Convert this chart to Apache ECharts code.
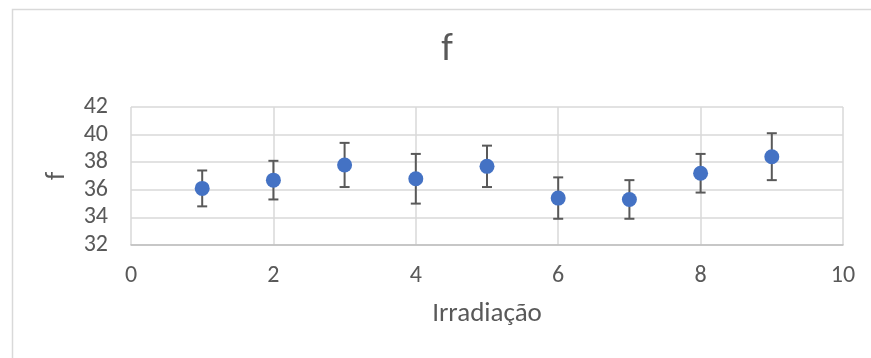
<!DOCTYPE html>
<html>
<head>
<meta charset="utf-8">
<script src="https://cdn.jsdelivr.net/npm/echarts@6/dist/echarts.min.js"></script>
<style>
  html, body { margin: 0; padding: 0; background: #ffffff; }
  #chart { width: 871px; height: 358px; }
</style>
</head>
<body>
<div id="chart"></div>
<script>
// Measurements: irradiation step and mean f with its error
const irradiacao = [1, 2, 3, 4, 5, 6, 7, 8, 9];
const fValues    = [36.1, 36.7, 37.8, 36.8, 37.7, 35.4, 35.3, 37.2, 38.4];
const fErrors    = [1.3, 1.4, 1.6, 1.8, 1.5, 1.5, 1.4, 1.4, 1.7];
const yTicks     = [32, 34, 36, 38, 40, 42];
const xTicks     = [0, 2, 4, 6, 8, 10];

const FONT = 'Carlito, Lato, sans-serif';
const TEXT = '#595959';

const points = irradiacao.map((x, i) => [x, fValues[i]]);
const bars = irradiacao.map((x, i) => [x, fValues[i] - fErrors[i], fValues[i] + fErrors[i]]);

const chart = echarts.init(document.getElementById('chart'), null, { renderer: 'canvas' });

chart.setOption({
  animation: false,
  backgroundColor: '#ffffff',
  graphic: [
    {
      type: 'rect',
      left: 10, top: 7,
      shape: { width: 900, height: 400 },
      style: { fill: 'none', stroke: '#d9d9d9', lineWidth: 1.5 },
      silent: true
    },
    {
      type: 'text',
      x: 447, y: 50,
      style: {
        text: 'f',
        align: 'center', verticalAlign: 'middle',
        font: 'normal 38px ' + FONT,
        fill: TEXT
      },
      silent: true
    }
  ],
  grid: { left: 131, right: 28, top: 107, bottom: 113 },
  xAxis: {
    type: 'value',
    min: xTicks[0],
    max: xTicks[xTicks.length - 1],
    interval: 2,
    name: 'Irradiação',
    nameLocation: 'middle',
    nameGap: 56,
    nameTextStyle: { fontFamily: FONT, fontSize: 27, color: TEXT },
    axisLine: { show: true, lineStyle: { color: '#bfbfbf', width: 1.5 } },
    axisTick: { show: false },
    axisLabel: { margin: 19, fontFamily: FONT, fontSize: 24, color: TEXT },
    splitLine: { show: true, lineStyle: { color: '#d9d9d9', width: 1.5 } }
  },
  yAxis: {
    type: 'value',
    min: yTicks[0],
    max: yTicks[yTicks.length - 1],
    interval: 2,
    name: 'f',
    nameLocation: 'middle',
    nameRotate: 90,
    nameGap: 60,
    nameTextStyle: { fontFamily: FONT, fontSize: 27, color: TEXT },
    axisLine: { show: false },
    axisTick: { show: false },
    axisLabel: { margin: 23, fontFamily: FONT, fontSize: 24, color: TEXT },
    splitLine: { show: true, lineStyle: { color: '#d9d9d9', width: 1.5 } }
  },
  series: [
    {
      // error bars with caps
      type: 'custom',
      z: 2,
      data: bars,
      renderItem: function (params, api) {
        const x = api.value(0);
        const lo = api.coord([x, api.value(1)]);
        const hi = api.coord([x, api.value(2)]);
        const half = 5;
        const style = { stroke: '#595959', lineWidth: 2 };
        return {
          type: 'group',
          children: [
            { type: 'line', shape: { x1: lo[0], y1: lo[1], x2: hi[0], y2: hi[1] }, style: style },
            { type: 'line', shape: { x1: lo[0] - half, y1: lo[1], x2: lo[0] + half, y2: lo[1] }, style: style },
            { type: 'line', shape: { x1: hi[0] - half, y1: hi[1], x2: hi[0] + half, y2: hi[1] }, style: style }
          ]
        };
      }
    },
    {
      type: 'scatter',
      z: 3,
      data: points,
      symbol: 'circle',
      symbolSize: 15,
      itemStyle: { color: '#4472c4', opacity: 1 }
    }
  ]
});
</script>
</body>
</html>
